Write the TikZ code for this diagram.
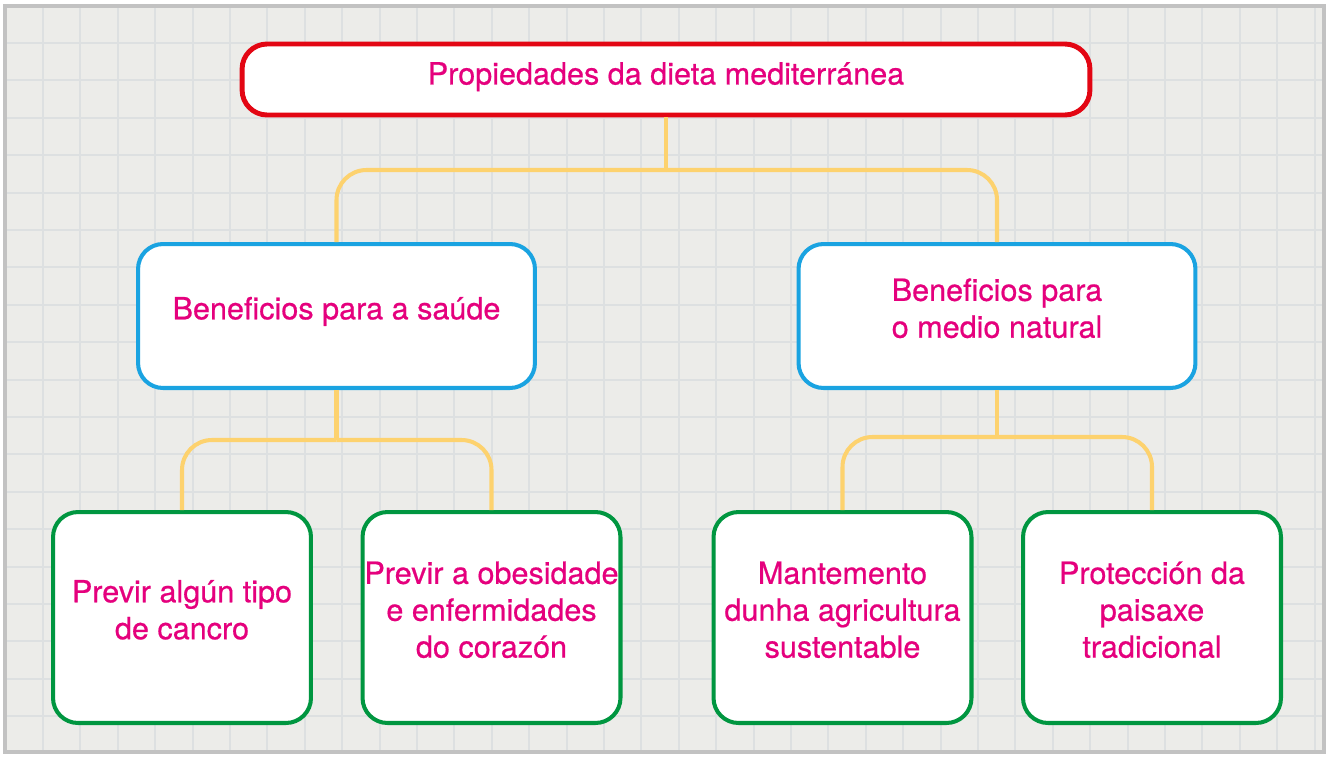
\documentclass[tikz,border=0pt]{standalone}
\usepackage{fontspec}
\setmainfont[FakeBold=0.6]{TeX Gyre Heros}
\usetikzlibrary{positioning}

\definecolor{paper}{HTML}{ECECE9}
\definecolor{paperline}{HTML}{DDE0E1}
\definecolor{paperedge}{HTML}{C2C2C2}
\definecolor{titlered}{HTML}{E30613}
\definecolor{healthblue}{HTML}{1AA3E1}
\definecolor{leafgreen}{HTML}{009640}
\definecolor{linkyellow}{HTML}{FDD26E}
\definecolor{textpink}{HTML}{E5007D}

\begin{document}
\begin{tikzpicture}[
			x=0.02cm, y=-0.02cm,
			box/.style={draw, fill=white, rounded corners=0.5cm, align=center,
				inner sep=0pt, text=textpink, text depth=9pt,
				font=\fontsize{17.4}{21}\selectfont},
			rootbox/.style={box, draw=titlered, line width=2.8pt, text depth=7pt,
				minimum width=16.96cm, minimum height=1.42cm},
			groupbox/.style={box, draw=healthblue, line width=2.3pt,
				minimum width=7.94cm, minimum height=2.88cm},
			leafbox/.style={box, draw=leafgreen, line width=2.3pt,
				minimum width=5.16cm, minimum height=4.22cm},
			link/.style={draw=linkyellow, line width=2.3pt, rounded corners=0.6cm}
			]
			% squared paper
			\useasboundingbox (0,0) rectangle (1328,758);
			\fill[paper] (5,6) rectangle (1324,752);
			\foreach \gx in {43,80.4,...,1322}
				\draw[paperline, line width=1.2pt] (\gx,6) -- (\gx,752);
			\foreach \gy in {43,80.4,...,752}
				\draw[paperline, line width=1.2pt] (5,\gy) -- (1324,\gy);
			\draw[paperedge, line width=2.5pt] (5,6) rectangle (1324,752);

			% boxes
			\node[rootbox] (diet) at (666,79.5) {Propiedades da dieta mediterránea};
			\node[groupbox] (health) at (336.5,316) {Beneficios para a saúde};
			\node[groupbox] (nature) at (997,316) {Beneficios para\\o medio natural};
			\node[leafbox] (cancer) at (182,617.5) {Previr algún tipo\\de cancro};
			\node[leafbox] (heart) at (491.5,617.5) {Previr a obesidade\\e enfermidades\\do corazón};
			\node[leafbox] (farming) at (842.5,617.5) {Mantemento\\dunha agricultura\\sustentable};
			\node[leafbox] (landscape) at (1152,617.5) {Protección da\\paisaxe\\tradicional};

			% connectors
			\coordinate (dietbar) at (666,170);
			\coordinate (healthbar) at (336.5,440);
			\coordinate (naturebar) at (997,437);
			\draw[link] (diet.south) -- (dietbar);
			\draw[link] (dietbar) -| (health.north);
			\draw[link] (dietbar) -| (nature.north);
			\draw[link] (health.south) -- (healthbar);
			\draw[link] (healthbar) -| (cancer.north);
			\draw[link] (healthbar) -| (heart.north);
			\draw[link] (nature.south) -- (naturebar);
			\draw[link] (naturebar) -| (farming.north);
			\draw[link] (naturebar) -| (landscape.north);
		\end{tikzpicture}
\end{document}
